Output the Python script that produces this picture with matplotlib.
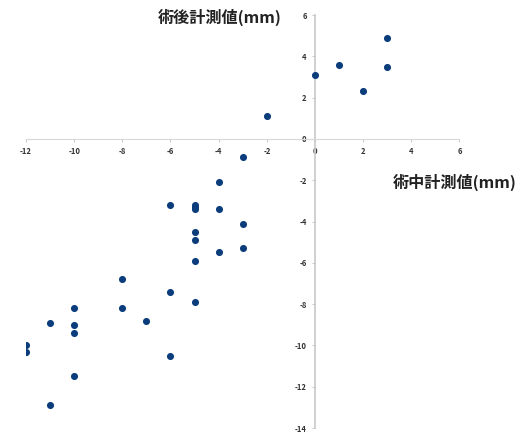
import numpy as np
import matplotlib
matplotlib.use("Agg")
import matplotlib.pyplot as plt

plt.rcParams['font.family'] = ['Noto Sans CJK JP', 'DejaVu Sans']

# intraoperative (x) vs postoperative (y) values, mm
x_vals = [3, 1, 3, 0, 2, -2, -3, -4, -6, -5, -5, -5, -4,
          -3, -5, -5, -4, -3, -5, -8, -6, -5, -10, -8, -7,
          -11, -10, -10, -12, -12, -6, -10, -11]
y_vals = [4.9, 3.6, 3.5, 3.1, 2.3, 1.1, -0.9, -2.1, -3.2, -3.2, -3.3, -3.4, -3.4,
          -4.1, -4.5, -4.9, -5.5, -5.3, -5.9, -6.8, -7.4, -7.9, -8.2, -8.2, -8.8,
          -8.9, -9.0, -9.4, -10.0, -10.3, -10.5, -11.5, -12.9]

x_ticks = [-12, -10, -8, -6, -4, -2, 0, 2, 4, 6]
y_ticks = [6, 4, 2, 0, -2, -4, -6, -8, -10, -12, -14]

fig = plt.figure(figsize=(5.21, 4.33), dpi=100)
ax = fig.add_axes([26 / 521, 1 - 428 / 433, 433.5 / 521, 413 / 433])

ax.scatter(x_vals, y_vals, s=26, color='#0b3d7c', zorder=3, linewidths=0)

ax.set_xlim(-12, 6)
ax.set_ylim(-14, 6)

for side in ['top', 'right']:
    ax.spines[side].set_visible(False)
ax.spines['left'].set_position(('data', 0))
ax.spines['bottom'].set_position(('data', 0))
ax.spines['left'].set_color('#c8c8c8')
ax.spines['bottom'].set_color('#d8d8d8')
ax.spines['left'].set_linewidth(1.2)
ax.spines['bottom'].set_linewidth(0.8)

ax.set_xticks(x_ticks)
ax.set_yticks(y_ticks)
ax.set_xticklabels([str(t) for t in x_ticks])
ax.set_yticklabels([str(t) for t in y_ticks])
ax.tick_params(axis='both', length=2, color='#cccccc', labelsize=5.5,
               labelcolor='#333333', pad=4)
for lab in ax.get_xticklabels() + ax.get_yticklabels():
    lab.set_fontweight('bold')

fig.text(158 / 521, 1 - 17 / 433, '術後計測値(mm)', fontsize=11.6,
         fontweight='bold', color='#222222', va='center', ha='left')
fig.text(393 / 521, 1 - 182 / 433, '術中計測値(mm)', fontsize=11.6,
         fontweight='bold', color='#222222', va='center', ha='left')

fig.savefig('out.png', dpi=100)
